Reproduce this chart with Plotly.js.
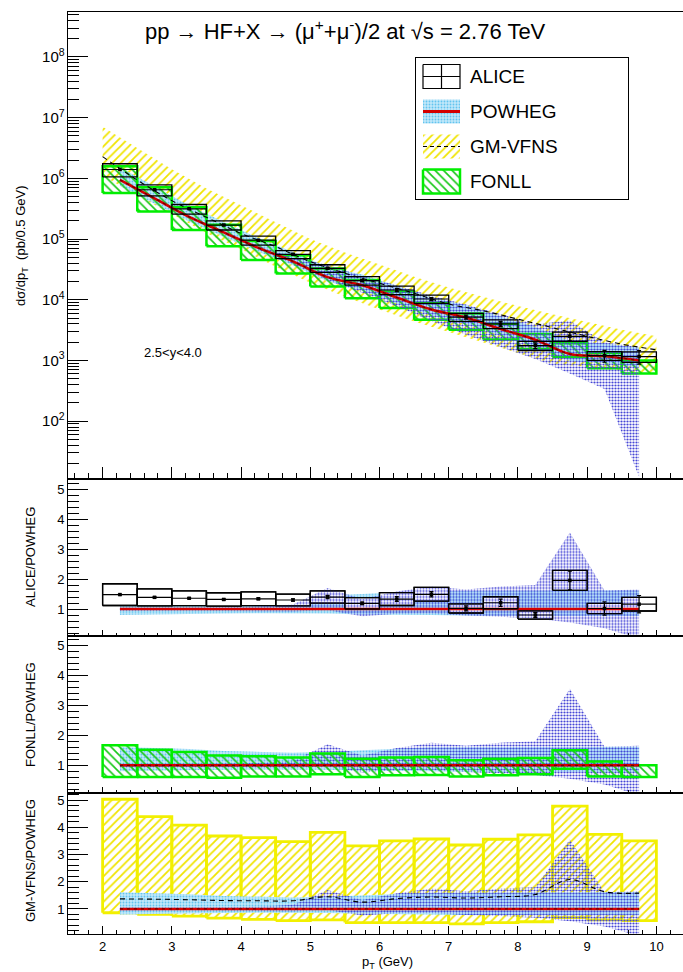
<!DOCTYPE html>
<html><head><meta charset="utf-8">
<script src="https://cdn.plot.ly/plotly-3.0.1.min.js"></script>
<style>html,body{margin:0;padding:0;overflow:hidden;background:#fff;} #chart{width:700px;height:972px;}</style>
</head><body><div id="chart"></div>
<script>
// ---------------- DATA ----------------
const ptCenters = [2.25,2.75,3.25,3.75,4.25,4.75,5.25,5.75,6.25,6.75,7.25,7.75,8.25,8.75,9.25,9.75];
const binWidth = 0.5;

// ALICE measurement (pb/0.5 GeV), relative stat and sys uncertainties
const aliceVal = [1.40e6,6.5e5,3.15e5,1.70e5,9.6e4,5.6e4,3.3e4,2.07e4,1.45e4,1.03e4,5.2e3,4.0e3,1.76e3,2.5e3,1.2e3,1.16e3];
const aliceStatRel = [0.01,0.012,0.015,0.018,0.02,0.028,0.04,0.035,0.06,0.06,0.08,0.10,0.11,0.16,0.22,0.25];
const aliceSysRel = [0.245,0.205,0.18,0.17,0.17,0.15,0.145,0.16,0.16,0.155,0.15,0.165,0.17,0.17,0.165,0.195];

// POWHEG central (pb/0.5 GeV)
const powhegC = [9.46e5,4.68e5,2.32e5,1.29e5,7.16e4,4.31e4,2.36e4,1.74e4,1.09e4,6.91e3,5.10e3,3.31e3,2.20e3,1.28e3,1.18e3,1.00e3];
// POWHEG wide (dotted blue) band in the spectrum panel (pb/0.5 GeV)
const powhegHiTop = [9.93e5,4.91e5,2.44e5,1.37e5,7.73e4,4.96e4,3.78e4,2.44e4,1.74e4,1.17e4,8.4e3,5.8e3,3.96e3,4.54e3,2.0e3,1.65e3];
const powhegLoTop = [8.99e5,4.45e5,2.20e5,1.21e5,6.66e4,3.88e4,2.12e4,1.31e4,7.85e3,4.49e3,2.65e3,1.66e3,1.06e3,6.1e2,3.4e2,12];
// POWHEG dotted blue band relative to POWHEG central (ratio panels)
const powhegBandHiR = [1.05,1.05,1.05,1.06,1.08,1.15,1.70,1.33,1.58,1.75,1.65,1.75,1.80,3.55,1.62,1.65];
const powhegBandLoR = [0.93,0.93,0.94,0.94,0.93,0.92,0.96,0.76,0.84,0.85,0.78,0.74,0.68,0.55,0.36,0.01];
// POWHEG light-blue band relative to POWHEG central
const powhegCyanHiR = [1.61,1.58,1.54,1.48,1.45,1.42,1.45,1.50,1.55,1.60,1.60,1.60,1.62,1.62,1.62,1.62];
const powhegCyanLoR = [0.80,0.82,0.84,0.85,0.86,0.86,0.85,0.82,0.80,0.80,0.78,0.78,0.77,0.77,0.77,0.77];

// FONLL / POWHEG
const fonllCR  = [1,1,1,1,1,1,1,1,1,1,1,1,1,1,1,1];
const fonllHiR = [1.67,1.52,1.44,1.33,1.30,1.26,1.39,1.22,1.26,1.28,1.17,1.22,1.24,1.50,1.13,1.00];
const fonllLoR = [0.61,0.61,0.61,0.59,0.63,0.63,0.70,0.61,0.67,0.68,0.63,0.67,0.70,0.89,0.63,0.61];

// GM-VFNS / POWHEG
const gmCR  = [1.37,1.36,1.34,1.31,1.30,1.30,1.45,1.25,1.38,1.44,1.40,1.45,1.53,2.08,1.63,1.58];
const gmHiR = [5.03,4.39,4.08,3.68,3.62,3.47,3.81,3.32,3.50,3.57,3.35,3.56,3.72,4.78,3.74,3.50];
const gmLoR = [0.86,0.80,0.74,0.66,0.62,0.57,0.60,0.50,0.50,0.50,0.45,0.50,0.53,0.68,0.60,0.57];

// GM-VFNS spectrum (pb/0.5 GeV) at bin edges
const gmTopX  = [2.0,2.5,3.0,3.5,4.0,4.5,5.0,5.5,6.0,6.5,7.0,7.5,8.0,8.5,9.0,9.5,10.0];
const gmTopC  = [2.28e6,9.4e5,4.3e5,2.29e5,1.24e5,7.5e4,4.25e4,2.74e4,1.87e4,1.28e4,8.5e3,6.6e3,4.8e3,3.47e3,2.5e3,1.86e3,1.5e3];
const gmTopHi = [7.1e6,3.16e6,1.41e6,6.8e5,3.55e5,1.9e5,1.0e5,6.0e4,3.8e4,2.4e4,1.6e4,1.12e4,7.9e3,5.8e3,4.3e3,3.2e3,2.5e3];
const gmTopLo = [1.12e6,5.2e5,2.6e5,1.26e5,6.8e4,3.5e4,1.9e4,1.12e4,6.9e3,4.4e3,2.95e3,2.0e3,1.32e3,8.9e2,7.9e2,6.8e2,5.8e2];

const legendLabels = ['ALICE','POWHEG','GM-VFNS','FONLL'];

// ---------------- STYLE ----------------
const FONT = 'Liberation Sans, Arial, Helvetica, sans-serif';
const RED = '#d40000';
const GREEN = '#00ee00';
const YEL = '#f2f000';
const hatchYellow = {shape:'/', fgcolor:'#f0e400', size:6, solidity:0.3};
const hatchGreen = {shape:'\\', fgcolor:'#18c818', size:6, solidity:0.28};
const dotsBlue = {shape:'.', fgcolor:'#4646d6', size:3, solidity:0.42};
const dotsCyan = {shape:'.', fgcolor:'#62c4ef', bgcolor:'#c2e9fa', size:3, solidity:0.3};

// ---------------- HELPERS ----------------
const mul = (a,b) => a.map((v,i)=>v*b[i]);
const div = (a,b) => a.map((v,i)=>v/b[i]);
function boxXY(xs, lo, hi, hw){
  const X=[],Y=[];
  xs.forEach((x,i)=>{X.push(x-hw,x+hw,x+hw,x-hw,x-hw,null);Y.push(lo[i],lo[i],hi[i],hi[i],lo[i],null);});
  return {X,Y};
}
function bandXY(xs, lo, hi){
  return {X: xs.concat(xs.slice().reverse()), Y: hi.concat(lo.slice().reverse())};
}
const hw = binWidth/2;
const traces = [];
function band(xa, ya, xs, lo, hi, pattern){
  const b = bandXY(xs, lo, hi);
  traces.push({x:b.X, y:b.Y, xaxis:xa, yaxis:ya, mode:'lines', fill:'toself', fillpattern:pattern,
    line:{width:0, color:'rgba(0,0,0,0)'}, hoverinfo:'skip', showlegend:false});
}
function boxes(xa, ya, xs, lo, hi, opts){
  const b = boxXY(xs, lo, hi, hw);
  const t = {x:b.X, y:b.Y, xaxis:xa, yaxis:ya, mode:'lines', line:opts.line, hoverinfo:'skip', showlegend:false};
  if (opts.pattern){ t.fill='toself'; t.fillpattern=opts.pattern; }
  if (opts.fillcolor){ t.fill='toself'; t.fillcolor=opts.fillcolor; }
  traces.push(t);
}
function line(xa, ya, xs, ys, l){
  traces.push({x:xs, y:ys, xaxis:xa, yaxis:ya, mode:'lines', line:l, hoverinfo:'skip', showlegend:false});
}
function points(xa, ya, xs, ys, err){
  traces.push({x:xs, y:ys, xaxis:xa, yaxis:ya, mode:'markers', marker:{symbol:'square', size:3.5, color:'#000'},
    error_y:{type:'data', array:err, visible:true, color:'#000', thickness:1.2, width:2},
    error_x:{type:'constant', value:hw, visible:true, color:'#000', thickness:1.2, width:0},
    hoverinfo:'skip', showlegend:false});
}

// ---------------- TOP PANEL ----------------
band('x','y', gmTopX, gmTopLo, gmTopHi, hatchYellow);
band('x','y', ptCenters, mul(powhegC,powhegCyanLoR), mul(powhegC,powhegCyanHiR), dotsCyan);
boxes('x','y', ptCenters, mul(powhegC,fonllLoR), mul(powhegC,fonllHiR), {line:{color:GREEN,width:2.5}, pattern:hatchGreen});
band('x','y', ptCenters, powhegLoTop, powhegHiTop, dotsBlue);
line('x','y', ptCenters, powhegC, {color:RED, width:2.5, shape:'spline'});
line('x','y', ptCenters, mul(powhegC,fonllCR), {color:'#6a0000', width:1.2, dash:'3px,4px', shape:'spline'});
line('x','y', gmTopX, gmTopC, {color:'#000', width:1.1, dash:'5px,4px', shape:'spline'});
boxes('x','y', ptCenters, aliceVal.map((v,i)=>v*(1-aliceSysRel[i])), aliceVal.map((v,i)=>v*(1+aliceSysRel[i])), {line:{color:'#000',width:1.3}});
points('x','y', ptCenters, aliceVal, mul(aliceVal, aliceStatRel));

// ---------------- ALICE / POWHEG ----------------
const aliceR = div(aliceVal, powhegC);
const unity = div(powhegC, powhegC);
band('x2','y2', ptCenters, powhegCyanLoR, powhegCyanHiR, dotsCyan);
boxes('x2','y2', ptCenters, aliceR.map((v,i)=>v*(1-aliceSysRel[i])), aliceR.map((v,i)=>v*(1+aliceSysRel[i])), {line:{color:'#000',width:1.3}, fillcolor:'#ffffff'});
band('x2','y2', ptCenters, powhegBandLoR, powhegBandHiR, dotsBlue);
line('x2','y2', ptCenters, unity, {color:RED, width:2.5});
boxes('x2','y2', ptCenters, aliceR.map((v,i)=>v*(1-aliceSysRel[i])), aliceR.map((v,i)=>v*(1+aliceSysRel[i])), {line:{color:'#000',width:1.3}});
points('x2','y2', ptCenters, aliceR, mul(aliceR, aliceStatRel));

// ---------------- FONLL / POWHEG ----------------
band('x3','y3', ptCenters, powhegCyanLoR, powhegCyanHiR, dotsCyan);
band('x3','y3', ptCenters, powhegBandLoR, powhegBandHiR, dotsBlue);
boxes('x3','y3', ptCenters, fonllLoR, fonllHiR, {line:{color:GREEN,width:2.5}, pattern:hatchGreen});
line('x3','y3', ptCenters, unity, {color:RED, width:2.5});
line('x3','y3', ptCenters, fonllCR, {color:'#6a0000', width:1.2, dash:'3px,4px'});

// ---------------- GM-VFNS / POWHEG ----------------
boxes('x4','y4', ptCenters, gmLoR, gmHiR, {line:{color:YEL,width:2.8}, pattern:hatchYellow});
band('x4','y4', ptCenters, powhegCyanLoR, powhegCyanHiR, dotsCyan);
band('x4','y4', ptCenters, powhegBandLoR, powhegBandHiR, dotsBlue);
line('x4','y4', ptCenters, unity, {color:RED, width:2.5});
line('x4','y4', ptCenters, fonllCR, {color:'#6a0000', width:1.2, dash:'3px,4px'});
line('x4','y4', ptCenters, gmCR, {color:'#000', width:1.1, dash:'5px,4px', shape:'spline'});

// ---------------- LEGEND (own small axes, pixel units of the legend box) ----------------
const LEG = {w:212, h:141, rowY:[18.5,53.5,88.5,123.5], gx0:7, gx1:44, gh:12, tx:52};
function legRect(row){ const y=LEG.rowY[row]; return {X:[LEG.gx0,LEG.gx1,LEG.gx1,LEG.gx0,LEG.gx0], Y:[y-LEG.gh,y-LEG.gh,y+LEG.gh,y+LEG.gh,y-LEG.gh]}; }
const gxm = (LEG.gx0+LEG.gx1)/2;
let r = legRect(0);
traces.push({x:r.X, y:r.Y, xaxis:'x5', yaxis:'y5', mode:'lines', line:{color:'#000',width:1.2}, showlegend:false, hoverinfo:'skip'});
traces.push({x:[LEG.gx0,LEG.gx1,null,gxm,gxm], y:[LEG.rowY[0],LEG.rowY[0],null,LEG.rowY[0]-LEG.gh,LEG.rowY[0]+LEG.gh], xaxis:'x5', yaxis:'y5', mode:'lines', line:{color:'#000',width:1.2}, showlegend:false, hoverinfo:'skip'});
r = legRect(1);
traces.push({x:r.X, y:r.Y, xaxis:'x5', yaxis:'y5', mode:'lines', fill:'toself', fillpattern:dotsCyan, line:{width:0,color:'rgba(0,0,0,0)'}, showlegend:false, hoverinfo:'skip'});
traces.push({x:[LEG.gx0,LEG.gx1], y:[LEG.rowY[1],LEG.rowY[1]], xaxis:'x5', yaxis:'y5', mode:'lines', line:{color:RED,width:3}, showlegend:false, hoverinfo:'skip'});
r = legRect(2);
traces.push({x:r.X, y:r.Y, xaxis:'x5', yaxis:'y5', mode:'lines', fill:'toself', fillpattern:hatchYellow, line:{width:0,color:'rgba(0,0,0,0)'}, showlegend:false, hoverinfo:'skip'});
traces.push({x:[LEG.gx0,LEG.gx1], y:[LEG.rowY[2],LEG.rowY[2]], xaxis:'x5', yaxis:'y5', mode:'lines', line:{color:'#000',width:1.1,dash:'4px,3px'}, showlegend:false, hoverinfo:'skip'});
r = legRect(3);
traces.push({x:r.X, y:r.Y, xaxis:'x5', yaxis:'y5', mode:'lines', fill:'toself', fillpattern:hatchGreen, line:{color:GREEN,width:2.5}, showlegend:false, hoverinfo:'skip'});

// ---------------- LAYOUT ----------------
const W=700, H=972, ML=68, MR=9;
const PW = W-ML-MR;
const px = p => (p-ML)/PW;        // pixel x -> paper
const py = p => 1 - p/H;          // pixel y -> paper
const tickFont = {family:FONT, size:13, color:'#000'};
const xBase = (anchor, len, show) => ({anchor:anchor, domain:[0,1], range:[1.5,10.5], dtick:1, tick0:0,
  showgrid:false, zeroline:false, showline:true, mirror:true, linecolor:'#000', linewidth:1,
  ticks:'inside', ticklen:len, tickcolor:'#000', tickwidth:1, showticklabels:show, tickfont:tickFont,
  minor:{dtick:0.2, tick0:0, ticks:'inside', ticklen:len/2, tickcolor:'#000', showgrid:false}, fixedrange:true});
const yRatio = (anchor, dom, rng) => ({anchor:anchor, domain:dom, range:rng, dtick:1, tick0:0,
  showgrid:false, zeroline:false, showline:true, mirror:true, linecolor:'#000', linewidth:1,
  ticks:'inside', ticklen:20, tickcolor:'#000', showticklabels:true, tickfont:tickFont,
  minor:{dtick:0.2, tick0:0, ticks:'inside', ticklen:11, tickcolor:'#000', showgrid:false}, fixedrange:true});

const layout = {
  width:W, height:H, margin:{l:ML, r:MR, t:0, b:0},
  paper_bgcolor:'#fff', plot_bgcolor:'rgba(0,0,0,0)', showlegend:false,
  font:{family:FONT, color:'#000'},
  xaxis: xBase('y', 12, false),
  yaxis: {type:'log', anchor:'x', domain:[py(478.5), py(12)], range:[1.056, 8.741], dtick:1,
    exponentformat:'power', showgrid:false, zeroline:false, showline:true, mirror:true, linecolor:'#000',
    ticks:'inside', ticklen:20, tickcolor:'#000', tickfont:{family:FONT,size:12,color:'#000'},
    minor:{dtick:'D1', ticks:'inside', ticklen:11, tickcolor:'#000', showgrid:false}, fixedrange:true},
  xaxis2: xBase('y2', 6, false),
  yaxis2: yRatio('x2', [py(636), py(478.5)], [0.1, 5.35]),
  xaxis3: xBase('y3', 6, false),
  yaxis3: yRatio('x3', [py(793), py(636)], [0.08, 5.3]),
  xaxis4: xBase('y4', 8, true),
  yaxis4: yRatio('x4', [py(934), py(793)], [0.08, 5.26]),
  xaxis5: {anchor:'y5', domain:[px(416), px(628)], range:[0, LEG.w], showgrid:false, zeroline:false,
    showline:true, mirror:true, linecolor:'#000', linewidth:1, ticks:'', showticklabels:false, fixedrange:true},
  yaxis5: {anchor:'x5', domain:[py(199), py(58)], range:[LEG.h, 0], showgrid:false, zeroline:false,
    showline:true, mirror:true, linecolor:'#000', linewidth:1, ticks:'', showticklabels:false, fixedrange:true},
  annotations: [
    {text:'pp → HF+X → (μ<sup>+</sup>+μ<sup>-</sup>)/2 at √s = 2.76 TeV', xref:'paper', yref:'paper',
      x:px(345), y:py(30), xanchor:'center', yanchor:'middle', showarrow:false, font:{family:FONT,size:22,color:'#000'}},
    {text:'2.5&lt;y&lt;4.0', xref:'paper', yref:'paper', x:px(173), y:py(352), xanchor:'center', yanchor:'middle',
      showarrow:false, font:{family:FONT,size:13,color:'#000'}},
    {text:'dσ/dp<sub>T</sub>  (pb/0.5 GeV)', xref:'paper', yref:'paper', x:px(22), y:py(245), textangle:-90,
      xanchor:'center', yanchor:'middle', showarrow:false, font:{family:FONT,size:13,color:'#000'}},
    {text:'ALICE/POWHEG', xref:'paper', yref:'paper', x:px(30), y:py(557), textangle:-90,
      xanchor:'center', yanchor:'middle', showarrow:false, font:{family:FONT,size:13,color:'#000'}},
    {text:'FONLL/POWHEG', xref:'paper', yref:'paper', x:px(30), y:py(715), textangle:-90,
      xanchor:'center', yanchor:'middle', showarrow:false, font:{family:FONT,size:13,color:'#000'}},
    {text:'GM-VFNS/POWHEG', xref:'paper', yref:'paper', x:px(30), y:py(861), textangle:-90,
      xanchor:'center', yanchor:'middle', showarrow:false, font:{family:FONT,size:13,color:'#000'}},
    {text:'p<sub>T</sub> (GeV)', xref:'paper', yref:'paper', x:px(388), y:py(962), xanchor:'center', yanchor:'middle',
      showarrow:false, font:{family:FONT,size:13,color:'#000'}}
  ].concat(legendLabels.map((t,i)=>({text:t, xref:'x5', yref:'y5', x:LEG.tx, y:LEG.rowY[i], xanchor:'left', yanchor:'middle',
      showarrow:false, font:{family:FONT,size:19,color:'#000'}})))
};

Plotly.newPlot('chart', traces, layout, {staticPlot:true, displayModeBar:false});
</script></body></html>
